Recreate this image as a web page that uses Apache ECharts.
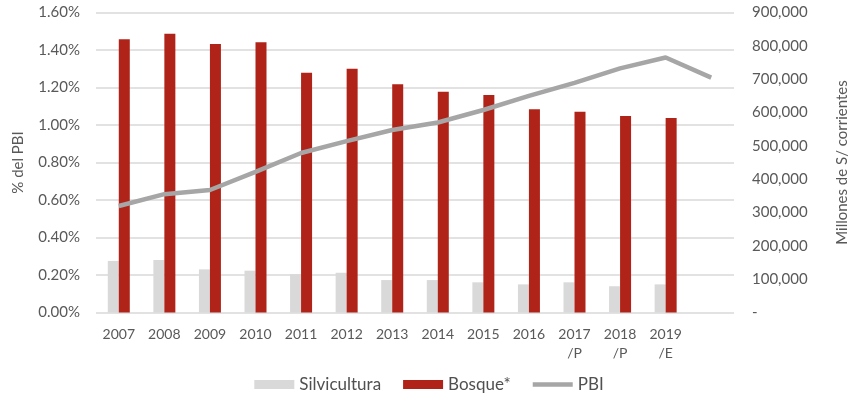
<!DOCTYPE html>
<html>
<head>
<meta charset="utf-8">
<script src="https://cdn.jsdelivr.net/npm/echarts@6/dist/echarts.min.js"></script>
<style>
  html, body { margin: 0; padding: 0; background: #fff; }
  #chart { width: 858px; height: 401px; }
</style>
</head>
<body>
<div id="chart"></div>
<script>
// años (la última categoría solo tiene PBI)
const categories = ["2007", "2008", "2009", "2010", "2011", "2012", "2013",
  "2014", "2015", "2016", "2017\n/P", "2018\n/P", "2019\n/E", ""];

// % del PBI
const silvicultura = [0.275, 0.28, 0.23, 0.223, 0.205, 0.212, 0.173,
  0.173, 0.161, 0.15, 0.161, 0.14, 0.15, null];
const bosque = [1.458, 1.487, 1.432, 1.441, 1.279, 1.30, 1.217,
  1.178, 1.16, 1.084, 1.071, 1.048, 1.037, null];

// Millones de S/ corrientes
const pbi = [319500, 355000, 367500, 422000, 478500, 514000, 547500,
  570000, 607500, 650000, 689000, 732500, 765000, 704500];

const leftTicks = { min: 0, max: 1.6, interval: 0.2 };
const rightTicks = { min: 0, max: 900000, interval: 100000 };

const textColor = "#595959";
const font = "Lato";

const chart = echarts.init(document.getElementById("chart"));

chart.setOption({
  animation: false,
  backgroundColor: "#fff",
  textStyle: { fontFamily: font, color: textColor },
  grid: { left: 96, right: 111, top: 12.5, bottom: 88.5 },
  legend: {
    bottom: 3,
    left: "center",
    itemWidth: 40,
    itemHeight: 9,
    itemGap: 22,
    textStyle: { fontSize: 17, color: "#505050", fontFamily: font },
    data: [
      { name: "Silvicultura", icon: "rect" },
      { name: "Bosque*", icon: "rect" },
      { name: "PBI", icon: "path://M0,0H40V4.5H0Z" },
    ],
  },
  xAxis: {
    type: "category",
    data: categories,
    axisLine: { show: false },
    axisTick: { show: false },
    axisLabel: {
      color: textColor,
      fontSize: 14,
      lineHeight: 19,
      margin: 12,
      interval: 0,
    },
  },
  yAxis: [
    {
      type: "value",
      ...leftTicks,
      name: "% del PBI",
      nameLocation: "middle",
      nameGap: 70,
      nameTextStyle: { fontSize: 15, color: textColor },
      axisLine: { show: false },
      axisTick: { show: false },
      axisLabel: {
        color: textColor,
        fontSize: 15,
        margin: 16,
        formatter: (v) => v.toFixed(2) + "%",
      },
      splitLine: { lineStyle: { color: "#d9d9d9", width: 1.5 } },
    },
    {
      type: "value",
      ...rightTicks,
      name: "Millones de S/ corrientes",
      nameLocation: "middle",
      nameGap: 101,
      nameRotate: 90,
      nameTextStyle: { fontSize: 15, color: textColor },
      axisLine: { show: false },
      axisTick: { show: false },
      splitLine: { show: false },
      axisLabel: {
        color: textColor,
        fontSize: 15,
        margin: 18,
        formatter: (v) => (v === 0 ? "-" : v.toLocaleString("en-US")),
      },
    },
  ],
  series: [
    {
      name: "Silvicultura",
      type: "bar",
      data: silvicultura,
      barWidth: 11,
      barGap: "0%",
      itemStyle: { color: "#d9d9d9" },
    },
    {
      name: "Bosque*",
      type: "bar",
      data: bosque,
      barWidth: 11,
      barGap: "0%",
      itemStyle: { color: "#b02318" },
    },
    {
      name: "PBI",
      type: "line",
      yAxisIndex: 1,
      data: pbi,
      symbol: "none",
      lineStyle: { color: "#a6a6a6", width: 4.5 },
      itemStyle: { color: "#a6a6a6" },
    },
  ],
});
</script>
</body>
</html>
